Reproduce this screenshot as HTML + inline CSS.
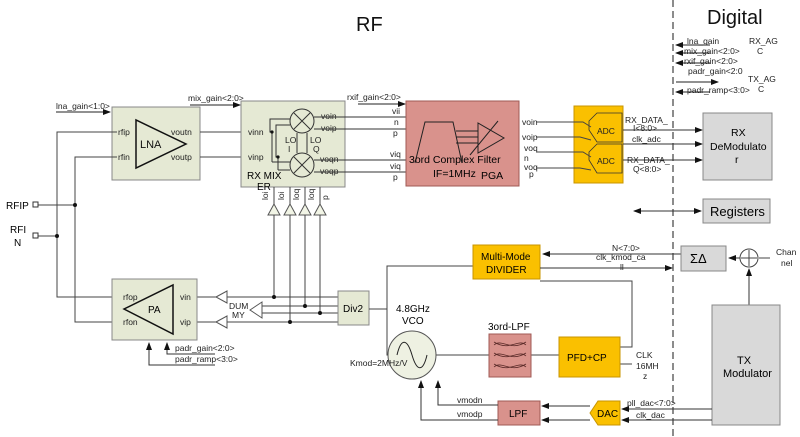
<!DOCTYPE html>
<html><head><meta charset="utf-8"><style>
body{margin:0;background:#fff}
svg{display:block;font-family:"Liberation Sans",sans-serif}
.s{font-size:8.5px;fill:#222}
.m{font-size:11px;fill:#111}
</style></head><body>
<svg width="800" height="437" viewBox="0 0 800 437" xmlns="http://www.w3.org/2000/svg">
<defs>
<marker id="a" markerWidth="8" markerHeight="8" refX="7" refY="4" orient="auto" markerUnits="userSpaceOnUse"><path d="M0,1 L8,4 L0,7Z" fill="#111"/></marker>
</defs>
<g stroke="#444" stroke-width="1" fill="none">
<!-- titles -->
</g>
<text x="356" y="31" font-size="20" fill="#111">RF</text>
<text x="707" y="24" font-size="20" fill="#111">Digital</text>
<line x1="673" y1="0" x2="673" y2="437" stroke="#666" stroke-width="1.5" stroke-dasharray="7,4"/>

<!-- Digital top arrows -->
<g stroke="#222" stroke-width="1" marker-end="url(#a)">
<line x1="710" y1="45" x2="676" y2="45"/>
<line x1="710" y1="53" x2="676" y2="53"/>
<line x1="710" y1="63" x2="676" y2="63"/>
<line x1="676" y1="82" x2="718" y2="82"/>
<line x1="710" y1="92" x2="676" y2="92"/>
</g>
<g class="s">
<text x="687" y="44">lna_gain</text><text x="684" y="54">mix_gain&lt;2:0&gt;</text>
<text x="684" y="64">rxif_gain&lt;2:0&gt;</text><text x="688" y="74">padr_gain&lt;2:0</text>
<text x="687" y="93">padr_ramp&lt;3:0&gt;</text>
<text x="749" y="44">RX_AG</text><text x="757" y="54">C</text>
<text x="748" y="82">TX_AG</text><text x="758" y="92">C</text>
</g>

<!-- LNA -->
<rect x="112" y="107" width="88" height="73" fill="#e5e9d4" stroke="#888"/>
<path d="M136,120 L136,168 L186,144Z" fill="none" stroke="#111" stroke-width="1.5"/>
<text x="140" y="148" class="m">LNA</text>
<g class="s"><text x="118" y="135">rfip</text><text x="118" y="160">rfin</text><text x="171" y="135">voutn</text><text x="171" y="160">voutp</text></g>
<line x1="56" y1="112" x2="110" y2="112" stroke="#222" marker-end="url(#a)"/>
<text x="56" y="109" class="s">lna_gain&lt;1:0&gt;</text>

<!-- RX inputs -->
<g stroke="#444" fill="none">
<polyline points="117,132 57,132 57,415 0,415" stroke="none"/>
<polyline points="117,132 57,132 57,297 117,297"/>
<polyline points="117,157 75,157 75,322 117,322"/>
<line x1="38" y1="205" x2="75" y2="205"/>
<line x1="38" y1="236" x2="57" y2="236"/>
<line x1="200" y1="132" x2="246" y2="132"/>
<line x1="200" y1="157" x2="246" y2="157"/>
</g>
<circle cx="75" cy="205" r="2" fill="#111"/><circle cx="57" cy="236" r="2" fill="#111"/>
<text x="6" y="209" font-size="10">RFIP</text><rect x="33" y="202" width="5" height="5" fill="none" stroke="#333"/>
<text x="10" y="233" font-size="10">RFI</text><text x="14" y="246" font-size="10">N</text><rect x="33" y="233" width="5" height="5" fill="none" stroke="#333"/>

<!-- Mixer -->
<rect x="241" y="101" width="104" height="86" fill="#e5e9d4" stroke="#888"/>
<line x1="190" y1="105" x2="240" y2="105" stroke="#222" marker-end="url(#a)"/>
<text x="188" y="101" class="s">mix_gain&lt;2:0&gt;</text>
<g class="s"><text x="248" y="135">vinn</text><text x="248" y="160">vinp</text>
<text x="321" y="119">voin</text><text x="321" y="131">voip</text><text x="320" y="162">voqn</text><text x="320" y="174">voqp</text>
<text x="285" y="143">LO</text><text x="288" y="152">I</text><text x="310" y="143">LO</text><text x="313" y="152">Q</text></g>
<text x="247" y="179" font-size="10">RX MIX</text><text x="257" y="190" font-size="10">ER</text>
<g stroke="#333" fill="none">
<circle cx="302" cy="121" r="12"/><circle cx="302" cy="165" r="12"/>
<path d="M294,113 L310,129 M310,113 L294,129 M294,157 L310,173 M310,157 L294,173"/>
<polyline points="272,132 270,132 270,119 290,119"/>
<polyline points="278,157 276,157 276,125 290,125"/>
<line x1="272" y1="132" x2="272" y2="162"/><line x1="272" y1="162" x2="290" y2="162"/>
<line x1="278" y1="157" x2="278" y2="170"/><line x1="278" y1="170" x2="290" y2="170"/>
<line x1="297" y1="133" x2="297" y2="153"/><line x1="307" y1="133" x2="307" y2="153"/>
<line x1="314" y1="117" x2="406" y2="117"/><line x1="314" y1="129" x2="406" y2="129"/>
<line x1="314" y1="160" x2="406" y2="160"/><line x1="314" y1="172" x2="406" y2="172"/>
</g>
<circle cx="272" cy="132" r="1.6" fill="#111"/><circle cx="278" cy="157" r="1.6" fill="#111"/>
<g class="s" font-size="7"><text transform="translate(268,200) rotate(-90)">loi</text><text transform="translate(284,200) rotate(-90)">loi</text><text transform="translate(299,200) rotate(-90)">loq</text><text transform="translate(314,200) rotate(-90)">loq</text><text transform="translate(328,200) rotate(-90)">p</text></g>

<!-- buffers -->
<g stroke="#555" fill="#f2f5e6">
<path d="M274,204 L268,215 L280,215Z"/><path d="M290,204 L284,215 L296,215Z"/><path d="M305,204 L299,215 L311,215Z"/><path d="M320,204 L314,215 L326,215Z"/>
</g>
<g stroke="#444" fill="none">
<line x1="274" y1="187" x2="274" y2="204"/><line x1="290" y1="187" x2="290" y2="204"/><line x1="305" y1="187" x2="305" y2="204"/><line x1="320" y1="187" x2="320" y2="204"/>
<line x1="274" y1="215" x2="274" y2="297"/><line x1="290" y1="215" x2="290" y2="322"/><line x1="305" y1="215" x2="305" y2="306"/><line x1="320" y1="215" x2="320" y2="313"/>
<line x1="227" y1="297" x2="338" y2="297"/><line x1="227" y1="322" x2="338" y2="322"/>
<line x1="262" y1="306" x2="338" y2="306"/><line x1="262" y1="313" x2="338" y2="313"/>
<line x1="197" y1="297" x2="216" y2="297"/><line x1="197" y1="322" x2="216" y2="322"/>
</g>
<circle cx="274" cy="297" r="2" fill="#111"/><circle cx="290" cy="322" r="2" fill="#111"/><circle cx="305" cy="306" r="2" fill="#111"/><circle cx="320" cy="313" r="2" fill="#111"/>
<g stroke="#555" fill="#fff">
<path d="M216,297 L227,291 L227,303Z"/><path d="M216,322 L227,316 L227,328Z"/><path d="M250,310 L262,302 L262,318Z"/>
</g>
<text x="229" y="309" class="s">DUM</text><text x="232" y="318" class="s">MY</text>

<!-- PA -->
<rect x="112" y="279" width="85" height="61" fill="#e5e9d4" stroke="#888"/>
<path d="M173,285 L173,334 L124,309Z" fill="none" stroke="#111" stroke-width="1.5"/>
<text x="148" y="313" font-size="10">PA</text>
<g class="s"><text x="123" y="300">rfop</text><text x="123" y="325">rfon</text><text x="180" y="300">vin</text><text x="180" y="325">vip</text></g>
<g stroke="#333" fill="none">
<polyline points="215,354 167,354 167,343" marker-end="url(#a)"/>
<polyline points="215,365 149,365 149,343" marker-end="url(#a)"/>
</g>
<text x="175" y="351" class="s">padr_gain&lt;2:0&gt;</text><text x="175" y="362" class="s">padr_ramp&lt;3:0&gt;</text>

<!-- Div2 -->
<rect x="338" y="291" width="31" height="34" fill="#e5e9d4" stroke="#888"/>
<text x="343" y="312" font-size="10">Div2</text>
<g stroke="#444" fill="none">
<line x1="369" y1="309" x2="387" y2="309"/>
<polyline points="473,266 387,266 387,355 388,355"/>
<line x1="436" y1="355" x2="489" y2="355"/>
<line x1="531" y1="355" x2="559" y2="355"/>
<polyline points="620,347 632,347 632,281 540,281"/>
<line x1="620" y1="364" x2="632" y2="364"/>
<line x1="540" y1="254" x2="670" y2="254" stroke="none"/>
</g>
<!-- VCO -->
<circle cx="412" cy="355" r="24" fill="#eef1e2" stroke="#555"/>
<path d="M397,355 C401,338 407,338 412,355 C417,372 423,372 427,355" fill="none" stroke="#222"/>
<text x="396" y="312" font-size="10">4.8GHz</text><text x="402" y="324" font-size="10">VCO</text>
<text x="350" y="366" class="s">Kmod=2MHz/V</text>
<!-- 3ord LPF -->
<text x="488" y="330" font-size="10">3ord-LPF</text>
<rect x="489" y="334" width="42" height="43" fill="#d9928c" stroke="#a05a55"/>
<g stroke="#5a2a28" fill="none" stroke-width="0.8">
<path d="M494,345 C502,338 510,352 526,342 M494,342 C510,352 518,338 526,345"/>
<path d="M494,356 C502,349 510,363 526,353 M494,353 C510,363 518,349 526,356"/>
<path d="M494,367 C502,360 510,374 526,364 M494,364 C510,374 518,360 526,367"/>
</g>
<!-- PFD -->
<rect x="559" y="337" width="61" height="40" fill="#fac000" stroke="#c89400"/>
<text x="567" y="361" font-size="10">PFD+CP</text>
<text x="636" y="358" class="s">CLK</text><text x="636" y="369" class="s">16MH</text><text x="643" y="379" class="s">z</text>
<!-- divider -->
<rect x="473" y="245" width="67" height="34" fill="#fac000" stroke="#c89400"/>
<text x="481" y="260" font-size="10">Multi-Mode</text><text x="486" y="273" font-size="10">DIVIDER</text>
<line x1="681" y1="254" x2="543" y2="254" stroke="#333" marker-end="url(#a)"/>
<line x1="540" y1="268" x2="672" y2="268" stroke="#333" marker-end="url(#a)"/>
<text x="612" y="251" class="s">N&lt;7:0&gt;</text><text x="596" y="260" class="s">clk_kmod_ca</text><text x="620" y="270" class="s">ll</text>
<!-- sigma delta -->
<rect x="681" y="246" width="45" height="25" fill="#d9d9d9" stroke="#888"/>
<text x="690" y="263" font-size="13">ΣΔ</text>
<circle cx="749" cy="258" r="9" fill="#fff" stroke="#444"/>
<path d="M741,258 H757 M749,250 V266" stroke="#444"/>
<line x1="740" y1="258" x2="729" y2="258" stroke="#333" marker-end="url(#a)"/>
<line x1="770" y1="258" x2="759" y2="258" stroke="#444"/>
<line x1="749" y1="305" x2="749" y2="269" stroke="#333" marker-end="url(#a)"/>
<text x="776" y="255" class="s">Chan</text><text x="781" y="266" class="s">nel</text>
<!-- TX modulator -->
<rect x="712" y="305" width="68" height="120" fill="#d9d9d9" stroke="#888"/>
<text x="737" y="364" font-size="11">TX</text><text x="723" y="377" font-size="11">Modulator</text>
<!-- DAC / LPF -->
<path d="M598,401 L620,401 L620,425 L598,425 L590,413Z" fill="#fac000" stroke="#c89400"/>
<text x="597" y="417" font-size="10">DAC</text>
<line x1="712" y1="409" x2="622" y2="409" stroke="#333" marker-end="url(#a)"/>
<line x1="712" y1="420" x2="622" y2="420" stroke="#333" marker-end="url(#a)"/>
<text x="627" y="406" class="s">pll_dac&lt;7:0&gt;</text><text x="636" y="418" class="s">clk_dac</text>
<rect x="498" y="401" width="42" height="24" fill="#d9928c" stroke="#a05a55"/>
<text x="509" y="417" font-size="10">LPF</text>
<line x1="590" y1="406" x2="542" y2="406" stroke="#333" marker-end="url(#a)"/>
<line x1="590" y1="420" x2="542" y2="420" stroke="#333" marker-end="url(#a)"/>
<polyline points="498,405 438,405 438,381" stroke="#333" fill="none" marker-end="url(#a)"/>
<polyline points="498,420 421,420 421,381" stroke="#333" fill="none" marker-end="url(#a)"/>
<text x="457" y="403" class="s">vmodn</text><text x="457" y="417" class="s">vmodp</text>

<!-- Filter -->
<rect x="406" y="101" width="113" height="85" fill="#d9928c" stroke="#a05a55"/>
<line x1="358" y1="104" x2="405" y2="104" stroke="#222" marker-end="url(#a)"/>
<text x="347" y="100" class="s">rxif_gain&lt;2:0&gt;</text>
<g class="s"><text x="392" y="114">vii</text><text x="394" y="125">n</text><text x="393" y="136">p</text><text x="390" y="157">viq</text><text x="390" y="169">viq</text><text x="393" y="180">p</text></g>
<path d="M415,163 L425,122 L453,122 L462,163" fill="none" stroke="#222"/>
<path d="M478,123 L478,153 L504,138Z" fill="none" stroke="#222"/>
<path d="M456,131 H478 M456,137 H478 M456,143 H478 M470,155 L498,121" stroke="#222" fill="none"/>
<text x="409" y="163" font-size="10.5">3ord Complex  Filter</text>
<text x="433" y="177" font-size="10.5">IF=1MHz</text><text x="481" y="179" font-size="10.5">PGA</text>
<g class="s"><text x="522" y="125">voin</text><text x="522" y="140">voip</text><text x="524" y="151">voq</text><text x="524" y="161">n</text><text x="524" y="170">voq</text><text x="529" y="177">p</text></g>
<!-- ADC -->
<rect x="574" y="106" width="49" height="77" fill="#fac000" stroke="#c89400"/>
<path d="M589,121 L597,113 L622,113 L622,142 L597,142 L589,130Z" M="" fill="#fac000" stroke="#333" stroke-width="0.8"/>
<path d="M589,152 L597,144 L622,144 L622,173 L597,173 L589,160Z" fill="#fac000" stroke="#333" stroke-width="0.8"/>
<text x="597" y="134" class="s" font-size="9">ADC</text><text x="597" y="164" class="s" font-size="9">ADC</text>
<g stroke="#444" fill="none">
<polyline points="536,122 583,122 591,127"/><polyline points="536,137 580,137 591,140"/>
<polyline points="536,152 583,152 591,157"/><polyline points="536,168 580,168 591,170"/>
</g>
<line x1="623" y1="130" x2="702" y2="130" stroke="#333" marker-end="url(#a)"/>
<line x1="623" y1="144" x2="702" y2="144" stroke="#333" marker-end="url(#a)"/>
<line x1="623" y1="160" x2="702" y2="160" stroke="#333" marker-end="url(#a)"/>
<text x="625" y="123" class="s">RX_DATA_</text><text x="633" y="131" class="s">I&lt;8:0&gt;</text>
<text x="632" y="142" class="s">clk_adc</text>
<text x="627" y="163" class="s">RX_DATA_</text><text x="633" y="172" class="s">Q&lt;8:0&gt;</text>
<rect x="703" y="113" width="69" height="67" fill="#d9d9d9" stroke="#888"/>
<text x="731" y="136" font-size="10.5">RX</text><text x="710" y="150" font-size="10.5">DeModulato</text><text x="735" y="163" font-size="10.5">r</text>
<rect x="703" y="199" width="67" height="24" fill="#d9d9d9" stroke="#888"/>
<text x="710" y="216" font-size="13">Registers</text>
<line x1="643" y1="211" x2="701" y2="211" stroke="#333" marker-end="url(#a)"/>
<line x1="660" y1="211" x2="634" y2="211" stroke="#333" marker-end="url(#a)"/>
</svg>
</body></html>
